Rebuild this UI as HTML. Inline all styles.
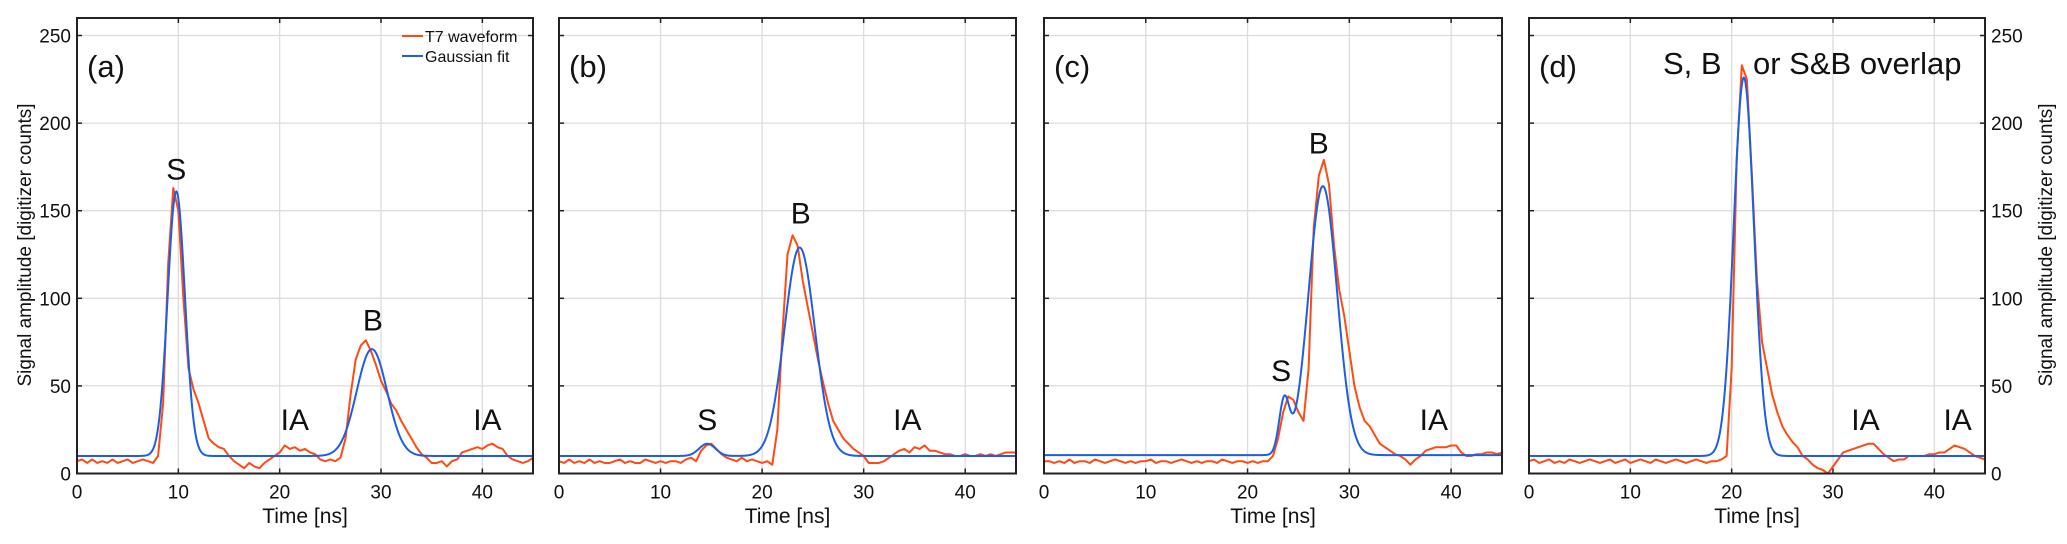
<!DOCTYPE html>
<html><head><meta charset="utf-8"><style>
html,body{margin:0;padding:0;background:#fff;}
svg{display:block;font-family:"Liberation Sans",Arial,sans-serif;}
</style></head><body>
<svg id="chart" width="2067" height="544" viewBox="0 0 2067 544" xmlns="http://www.w3.org/2000/svg"></svg>
<script>
// ---- data ----
const timeStep = 0.5; // ns between waveform samples, t = 0..45
const waveA = [7,8,6,8,6,7,6,8,6,7,8,6,7,8,7,6,10,40,120,163,150,100,60,48,40,30,20,17,15,14,10,7,5,3,6,4,3,6,8,10,12,16,14,15,13,14,12,11,8,7,8,7,9,20,45,65,73,76,70,62,53,47,40,36,30,25,20,15,11,9,6,6,7,4,7,8,12,13,14,15,14,16,17,15,14,10,8,7,6,7,9];
const waveB = [7,6,8,6,7,6,8,6,7,6,6,7,8,6,7,6,6,8,7,6,7,6,7,7,6,8,9,7,13,16,17,14,11,9,8,7,9,7,8,7,6,7,5,25,80,125,136,130,110,95,80,65,52,40,30,25,20,17,14,12,10,6,6,6,7,9,11,13,14,12,15,14,16,13,13,12,11,11,10,10,11,10,10,11,10,11,10,11,12,12,12];
const waveC = [7,7,6,7,6,8,6,7,7,6,8,7,6,7,8,7,6,7,6,7,7,8,6,7,7,6,7,8,7,6,7,6,7,7,6,8,7,6,7,7,6,7,6,7,7,10,20,35,44,42,35,30,60,140,170,179,165,130,105,90,70,50,38,30,27,22,17,15,13,11,10,8,5,8,10,13,14,15,15,15,16,16,12,10,10,11,11,12,12,11,12];
const waveD = [7,8,6,7,8,6,7,6,8,7,6,7,8,7,6,7,8,6,7,8,6,7,8,7,6,8,7,6,7,8,7,6,7,8,7,6,7,7,8,10,60,180,233,225,170,110,75,60,45,35,27,22,18,15,10,8,5,3,2,0,4,8,12,13,14,15,16,17,17,14,11,9,7,8,8,10,10,10,10,11,11,12,12,14,16,15,14,12,10,9,8];
// Gaussian fit parameters (baseline + sum of components)
const fitBase = [10, 10, 10.5, 10];
const fitCenters = [[9.8, 29.1],[14.6, 23.7],[23.6, 27.4],[21.2]];
const fitAmps = [[151, 61],[7, 119],[30, 153.5],[216]];
const fitSigmas = [[0.85, 1.5],[0.8, 1.5],[0.5, 1.4],[1.0]];
const xTicks = [0,10,20,30,40];
const yTicks = [0,50,100,150,200,250];
const panelLetters = ["(a)","(b)","(c)","(d)"];
// annotations: [text, x(ns), y(counts)]
const annotations = [
  [["S",9.8,174],["B",29.2,88],["IA",21.5,31],["IA",40.5,31]],
  [["S",14.6,31],["B",23.8,149],["IA",34.3,31]],
  [["S",23.3,59],["B",27,189],["IA",38.3,31]],
  [["IA",33.2,31],["IA",42.3,31]]
];
// ---- layout ----
const panels = [{l:77,r:533},{l:559,r:1016},{l:1044,r:1502},{l:1529,r:1985}];
const TOP = 18, BOT = 473.5, XMAX = 45, YMAX = 260;
const NS = "http://www.w3.org/2000/svg";
const svg = document.getElementById('chart');
function mk(tag, attrs, parent){
  const e = document.createElementNS(NS, tag);
  for (const k in attrs) e.setAttribute(k, attrs[k]);
  (parent||svg).appendChild(e);
  return e;
}
const ORANGE = "#ff4a12", BLUE = "#1d5ee8";
const waves = [waveA, waveB, waveC, waveD];

panels.forEach((p, i) => {
  const xs = v => p.l + (v / XMAX) * (p.r - p.l);
  const ys = v => BOT - (v / YMAX) * (BOT - TOP);
  const g = mk('g', {});
  
  
  xTicks.forEach(t => {
    if (t === 0) return;
    const ln = mk('line', {x1:xs(t), x2:xs(t), y1:TOP, y2:BOT, stroke:"#dcdcdc", "stroke-width":1.3}, g);
    
    
  });
  yTicks.forEach(t => {
    if (t === 0) return;
    const ln = mk('line', {x1:p.l, x2:p.r, y1:ys(t), y2:ys(t), stroke:"#dcdcdc", "stroke-width":1.3}, g);
    
    
  });
  const w = waves[i];
  let d = w.map((v, k) => (k ? 'L' : 'M') + xs(k * timeStep).toFixed(2) + ' ' + ys(v).toFixed(2)).join(' ');
  const wp = mk('path', {d:d, fill:"none", stroke:ORANGE, "stroke-width":2, "stroke-linejoin":"round"}, g);
  
  
  let fd = '';
  for (let t = 0; t <= XMAX + 1e-9; t += 0.05) {
    let v = fitBase[i];
    fitCenters[i].forEach((c, j) => { v += fitAmps[i][j] * Math.exp(-((t - c) ** 2) / (2 * fitSigmas[i][j] ** 2)); });
    fd += (fd ? 'L' : 'M') + xs(t).toFixed(2) + ' ' + ys(v).toFixed(2) + ' ';
  }
  const fp = mk('path', {d:fd, fill:"none", stroke:BLUE, "stroke-width":2}, g);
  
  
  const fr = mk('rect', {x:p.l, y:TOP, width:p.r - p.l, height:BOT - TOP, fill:"none", stroke:"#222", "stroke-width":2}, g);
  
  
  xTicks.forEach(t => {
    mk('line', {x1:xs(t), x2:xs(t), y1:BOT, y2:BOT - 5, stroke:"#222", "stroke-width":1.5}, g);
    mk('line', {x1:xs(t), x2:xs(t), y1:TOP, y2:TOP + 5, stroke:"#222", "stroke-width":1.5}, g);
    const tx = mk('text', {x:xs(t), y:BOT + 25, "font-size":19, "text-anchor":"middle", fill:"#111"}, g);
    tx.textContent = t;
    
    
  });
  yTicks.forEach(t => {
    mk('line', {x1:p.l, x2:p.l + 5, y1:ys(t), y2:ys(t), stroke:"#222", "stroke-width":1.5}, g);
    mk('line', {x1:p.r, x2:p.r - 5, y1:ys(t), y2:ys(t), stroke:"#222", "stroke-width":1.5}, g);
    if (i === 0) {
      const ty = mk('text', {x:p.l - 6, y:ys(t) + 7, "font-size":19, "text-anchor":"end", fill:"#111"}, g);
      ty.textContent = t;
      
      
    }
    if (i === 3) {
      const ty = mk('text', {x:p.r + 6, y:ys(t) + 7, "font-size":19, "text-anchor":"start", fill:"#111"}, g);
      ty.textContent = t;
      
      
    }
  });
  const xt = mk('text', {x:(p.l + p.r) / 2, y:523, "font-size":21, "text-anchor":"middle", fill:"#111"}, g);
  xt.textContent = "Time [ns]";
  
  
  const pl = mk('text', {x:p.l + 10, y:77, "font-size":31, fill:"#111"}, g);
  pl.textContent = panelLetters[i];
  
  
  annotations[i].forEach(a => {
    const at = mk('text', {x:xs(a[1]), y:ys(a[2]) + 11, "font-size":30, "text-anchor":"middle", fill:"#111"}, g);
    at.textContent = a[0];
    
    
  });
});

const yt1 = mk('text', {x:0, y:0, "font-size":19, "text-anchor":"middle", fill:"#111", transform:"translate(31,245) rotate(-90)"});
yt1.textContent = "Signal amplitude [digitizer counts]";


const yt2 = mk('text', {x:0, y:0, "font-size":19, "text-anchor":"middle", fill:"#111", transform:"translate(2052,245) rotate(-90)"});
yt2.textContent = "Signal amplitude [digitizer counts]";



const ov = mk('text', {x:1663, y:74, "font-size":31, fill:"#111"});
ov.textContent = "S, B";


const ov2 = mk('text', {x:1753, y:74, "font-size":31, fill:"#111"});
ov2.textContent = "or S&B overlap";



const lg = mk('g', {});


const le1 = mk('line', {x1:402, x2:423, y1:36, y2:36, stroke:ORANGE, "stroke-width":2}, lg);


const lt1 = mk('text', {x:425, y:42, "font-size":16, fill:"#111"}, lg);
lt1.textContent = "T7 waveform";


const le2 = mk('line', {x1:402, x2:423, y1:56, y2:56, stroke:BLUE, "stroke-width":2}, lg);


const lt2 = mk('text', {x:425, y:62, "font-size":16, fill:"#111"}, lg);
lt2.textContent = "Gaussian fit";


</script>
</body></html>
